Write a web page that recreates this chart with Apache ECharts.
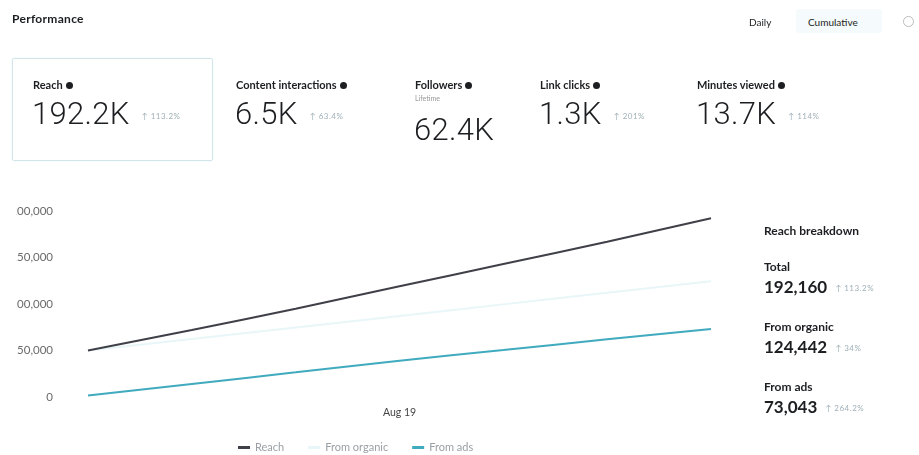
<!DOCTYPE html>
<html>
<head>
<meta charset="utf-8">
<script src="https://cdn.jsdelivr.net/npm/echarts@6/dist/echarts.min.js"></script>
<style>
  html,body{margin:0;padding:0;background:#fff;width:919px;height:455px;overflow:hidden;font-family:"Lato","Open Sans",sans-serif;color:#1c1e21;}
  #wrap{position:absolute;left:16px;top:0;width:903px;height:455px;overflow:hidden;}
  #chart{position:absolute;left:-32px;top:0;width:935px;height:455px;}
  .abs{position:absolute;white-space:nowrap;}
  .title{font-size:12px;font-weight:700;letter-spacing:0.3px;}
  .lbl{font-size:11px;font-weight:700;}
  .big{font-family:"Roboto","Open Sans",sans-serif;font-weight:300;font-size:31px;letter-spacing:0.3px;color:#1c1e21;}
  .chg{font-size:8px;color:#9fb0b8;margin-left:12px;vertical-align:5px;font-weight:400;letter-spacing:0.5px;font-family:"Lato",sans-serif;}
  .i{display:inline-block;width:7px;height:7px;border-radius:50%;background:#1c1e21;margin-left:3px;vertical-align:0px;}
  .card{position:absolute;left:12px;top:58px;width:199px;height:101px;border:1px solid #d2e6e9;border-radius:2px;box-shadow:0 0 2px #e4f1f3;}
  .bd{font-size:12px;font-weight:700;}
  .bdv{font-size:17px;font-weight:700;}
</style>
</head>
<body>
<div id="wrap"><div id="chart"></div></div>

<div class="abs title" style="left:12px;top:11px;">Performance</div>
<div class="abs" style="left:749px;top:16px;font-size:10px;">Daily</div>
<div class="abs" style="left:796px;top:9px;width:86px;height:24px;background:#f5fafc;border-radius:3px;"></div>
<div class="abs" style="left:808px;top:16px;font-size:10px;">Cumulative</div>
<div class="abs" style="left:903px;top:16px;width:9px;height:9px;border:1px solid #bbb;border-radius:50%;"></div>

<div class="card"></div>
<div id="kpis"></div>
<div id="breakdown"></div>

<script>
// ---- data ----
const categories = ['Aug 16','Aug 17','Aug 18','Aug 19','Aug 20','Aug 21','Aug 22'];
const reachValues   = [50000, 72000, 95000, 119000, 143000, 167000, 192160];
const organicValues = [50000, 62400, 74800, 87200, 99600, 112000, 124442];
const adsValues     = [1500, 14000, 26500, 39000, 50500, 62000, 73043];
const yTicks = [0, 50000, 100000, 150000, 200000];
const seriesNames = ['Reach', 'From organic', 'From ads'];

const kpiNames   = ['Reach', 'Content interactions', 'Followers', 'Link clicks', 'Minutes viewed'];
const kpiValues  = ['192.2K', '6.5K', '62.4K', '1.3K', '13.7K'];
const kpiChanges = ['↑ 113.2%', '↑ 63.4%', '', '↑ 201%', '↑ 114%'];
const kpiLeft    = [33, 236, 415, 540, 697];

const breakdownNames   = ['Total', 'From organic', 'From ads'];
const breakdownValues  = [192160, 124442, 73043];
const breakdownChanges = ['↑ 113.2%', '↑ 34%', '↑ 264.2%'];

// ---- KPI cards (HTML text) ----
const kpis = document.getElementById('kpis');
kpiNames.forEach((n, i) => {
  const l = document.createElement('div');
  l.className = 'abs lbl'; l.style.left = kpiLeft[i] + 'px'; l.style.top = '78px';
  l.innerHTML = n + '<span class="i"></span>';
  kpis.appendChild(l);
  let top = 95;
  if (n === 'Followers') {
    const s = document.createElement('div');
    s.className = 'abs'; s.style.left = kpiLeft[i] + 'px'; s.style.top = '94px';
    s.style.fontSize = '7px'; s.style.color = '#999'; s.textContent = 'Lifetime';
    kpis.appendChild(s);
    top = 111;
  }
  const v = document.createElement('div');
  v.className = 'abs big'; v.style.left = (kpiLeft[i] - 1) + 'px'; v.style.top = top + 'px';
  v.innerHTML = kpiValues[i] + (kpiChanges[i] ? '<span class="chg">' + kpiChanges[i] + '</span>' : '');
  kpis.appendChild(v);
});

// ---- breakdown ----
const bd = document.getElementById('breakdown');
const h = document.createElement('div');
h.className = 'abs bd'; h.style.left = '764px'; h.style.top = '223px'; h.textContent = 'Reach breakdown';
bd.appendChild(h);
breakdownNames.forEach((n, i) => {
  const t = 259 + i * 60;
  const a = document.createElement('div');
  a.className = 'abs bd'; a.style.left = '764px'; a.style.top = t + 'px'; a.textContent = n;
  bd.appendChild(a);
  const b = document.createElement('div');
  b.className = 'abs bdv'; b.style.left = '764px'; b.style.top = (t + 17) + 'px';
  b.innerHTML = breakdownValues[i].toLocaleString('en-US') + '<span class="chg" style="vertical-align:2px;margin-left:8px;">' + breakdownChanges[i] + '</span>';
  bd.appendChild(b);
});

// ---- chart ----
const chart = echarts.init(document.getElementById('chart'), null, {renderer: 'canvas'});
const colors = ['#3f4048', '#e8f6f8', '#40aabf'];
chart.setOption({
  animation: false,
  color: colors,
  grid: {left: 104, right: 208, top: 211, bottom: 58, containLabel: false},
  xAxis: {
    type: 'category', data: categories, boundaryGap: false,
    axisLine: {show: false}, axisTick: {show: false}, splitLine: {show: false},
    axisLabel: {
      interval: (idx, val) => val === 'Aug 19',
      color: '#444', fontSize: 10.5, margin: 10, fontFamily: 'Lato'
    }
  },
  yAxis: {
    type: 'value', min: yTicks[0], max: yTicks[yTicks.length - 1],
    interval: yTicks[1] - yTicks[0],
    axisLine: {show: false}, axisTick: {show: false}, splitLine: {show: false},
    axisLabel: {
      color: '#6a6a6a', fontSize: 11.5, margin: 35, fontFamily: 'Lato',
      formatter: v => v.toLocaleString('en-US')
    }
  },
  legend: {
    top: 437, left: 249, itemWidth: 12, itemHeight: 3, itemGap: 24, icon: 'rect',
    textStyle: {color: '#9aa0a6', fontSize: 11, fontFamily: 'Lato'},
    data: seriesNames
  },
  series: [
    {name: seriesNames[0], type: 'line', data: reachValues, smooth: true, showSymbol: false, lineStyle: {width: 2, color: colors[0]}, z: 3},
    {name: seriesNames[1], type: 'line', data: organicValues, smooth: true, showSymbol: false, lineStyle: {width: 2, color: colors[1]}, z: 1},
    {name: seriesNames[2], type: 'line', data: adsValues, smooth: true, showSymbol: false, lineStyle: {width: 2, color: colors[2]}, z: 2}
  ]
});
</script>
</body>
</html>
